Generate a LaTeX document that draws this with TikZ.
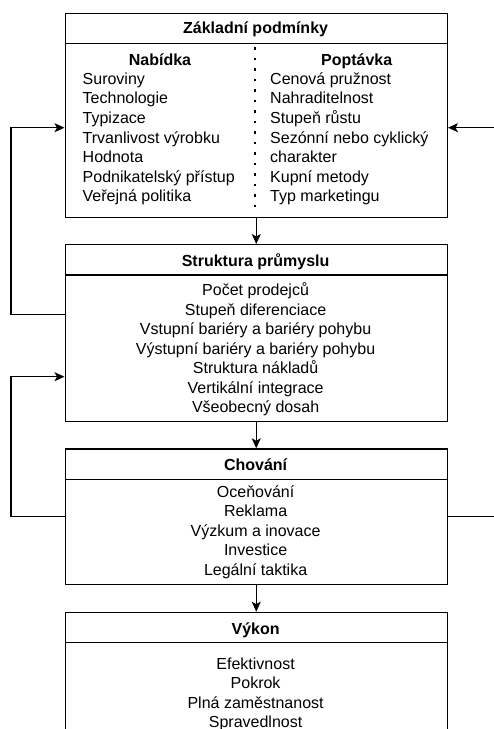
\documentclass[tikz,border=0pt]{standalone}
\usepackage{fontspec}
\setmainfont{Liberation Sans}
\usetikzlibrary{arrows.meta}

\begin{document}
\begin{tikzpicture}[x=1pt,y=-1pt,
  box/.style={draw, line width=1.3pt, inner sep=0pt, anchor=north west, minimum width=382.2pt},
  divline/.style={line width=1.3pt},
  arr/.style={line width=1.2pt, -{Stealth[length=10pt,width=9pt,inset=2.5pt]}},
  loop/.style={line width=1.2pt, line join=miter, -{Stealth[length=10pt,width=9pt,inset=2.5pt]}},
  txt/.style={inner sep=0pt, anchor=base, font=\fontsize{16}{19.5}\selectfont},
  ltxt/.style={txt, anchor=base west},
  hdr/.style={txt, font=\fontsize{16}{19.5}\selectfont\bfseries},
  dotsep/.style={line width=2.2pt, dash pattern=on 2.5pt off 8pt}
]
\useasboundingbox (0,0) rectangle (494,729);
\clip (0,0) rectangle (494,729);

% the four stacked boxes
\node[box, minimum height=204pt]   (b1) at (64.5,12.7)  {};
\node[box, minimum height=176.7pt] (b2) at (64.5,244)   {};
\node[box, minimum height=135.7pt] (b3) at (64.5,448.3) {};
\node[box, minimum height=160pt]   (b4) at (64.5,611.7) {};

% title bars
\draw[divline] (64.5,43.3)  -- (446.7,43.3);
\draw[divline] (64.5,275)   -- (446.7,275);
\draw[divline] (64.5,479.3) -- (446.7,479.3);
\draw[divline] (64.5,642.3) -- (446.7,642.3);

% dotted split between supply and demand
\draw[dotsep] (255,47) -- (255,214);

% titles
\node[hdr] (t1) at (255.6,33.5)  {Základní podmínky};
\node[hdr] (t2) at (255.6,266.3) {Struktura průmyslu};
\node[hdr] (t3) at (255.6,470)   {Chování};
\node[hdr] (t4) at (255.6,634)   {Výkon};

% basic conditions: two columns
\node[hdr] (nab) at (160,65.5)   {Nabídka};
\node[hdr] (pop) at (356.7,65.5) {Poptávka};
\foreach \t [count=\i from 0] in {Suroviny,Technologie,Typizace,Trvanlivost výrobku,Hodnota,Podnikatelský přístup,Veřejná politika}
  \node[ltxt] (s\i) at (82.5,84.3+19.6*\i) {\t};
\foreach \t [count=\i from 0] in {Cenová pružnost,Nahraditelnost,Stupeň růstu,Sezónní nebo cyklický,charakter,Kupní metody,Typ marketingu}
  \node[ltxt] (d\i) at (270,84.3+19.6*\i) {\t};

% market structure
\foreach \t [count=\i from 0] in {Počet prodejců,Stupeň diferenciace,Vstupní bariéry a bariéry pohybu,Výstupní bariéry a bariéry pohybu,Struktura nákladů,Vertikální integrace,Všeobecný dosah}
  \node[txt] (m\i) at (255.6,295.5+19.5*\i) {\t};

% conduct
\foreach \t [count=\i from 0] in {Oceňování,Reklama,Výzkum a inovace,Investice,Legální taktika}
  \node[txt] (c\i) at (255.6,497+19.5*\i) {\t};

% performance
\foreach \t [count=\i from 0] in {Efektivnost,Pokrok,Plná zaměstnanost,Spravedlnost}
  \node[txt] (p\i) at (255.6,669.3+19.5*\i) {\t};

% main flow
\draw[arr] (b1) -- (b2);
\draw[arr] (b2) -- (b3);
\draw[arr] (b3) -- (b4);

% feedback loops
\coordinate (la) at (11,314.3);
\coordinate (lb) at (11,127.7);
\coordinate (lc) at (11,516.2);
\coordinate (ld) at (11,376.7);
\coordinate (ra) at (512,516.2);
\coordinate (rb) at (512,127.7);
\draw[loop] (b2.west |- la) -- (la) -- (lb) -- (b1.west |- lb);
\draw[loop] (b3.west |- lc) -- (lc) -- (ld) -- (b2.west |- ld);
\draw[loop] (b3.east |- ra) -- (ra) -- (rb) -- (b1.east |- rb);
\end{tikzpicture}
\end{document}
